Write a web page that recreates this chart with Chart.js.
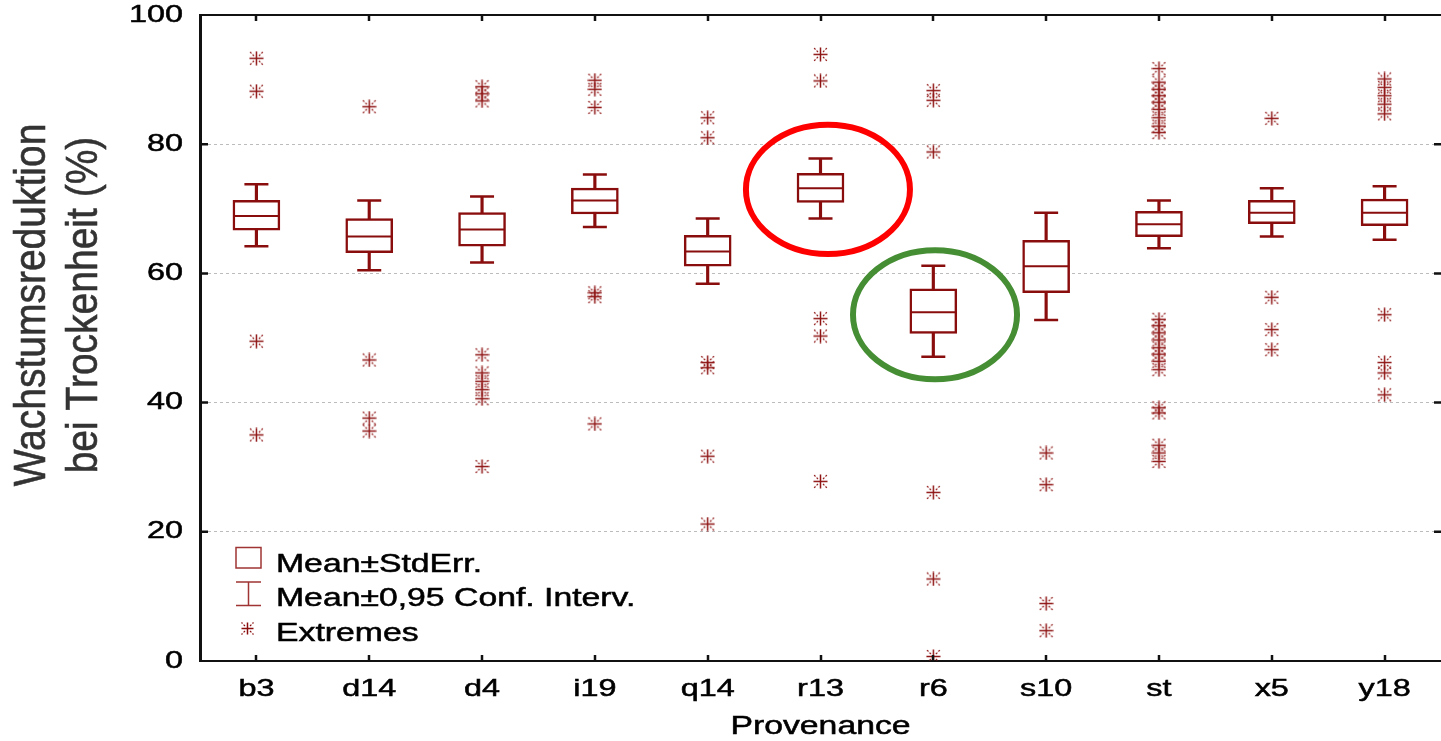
<!DOCTYPE html>
<html>
<head>
<meta charset="utf-8">
<script src="https://cdn.jsdelivr.net/npm/chart.js@4.4.1/dist/chart.umd.min.js"></script>
<style>
  html, body { margin: 0; padding: 0; background: #fff; }
  #wrap { width: 1441px; height: 741px; }
</style>
</head>
<body>
<div id="wrap"><canvas id="boxChart" width="1441" height="741"></canvas></div>
<script>
// data
const categories = ["b3", "d14", "d4", "i19", "q14", "r13", "r6", "s10", "st", "x5", "y18"];
const means  = [68.9, 65.7, 66.8, 71.3, 63.4, 73.2, 54.0, 61.1, 67.6, 69.4, 69.4];
const seLow  = [66.7, 63.2, 64.2, 69.2, 61.1, 71.0, 50.7, 57.0, 65.7, 67.7, 67.4];
const seHigh = [71.3, 68.5, 69.4, 73.2, 65.9, 75.5, 57.6, 65.1, 69.6, 71.3, 71.5];
const ciLow  = [64.2, 60.5, 61.7, 67.2, 58.4, 68.5, 47.1, 52.8, 63.9, 65.7, 65.2];
const ciHigh = [73.8, 71.3, 71.9, 75.3, 68.5, 77.8, 61.2, 69.4, 71.3, 73.2, 73.5];
const extremes = [
  [93.3, 88.2, 49.5, 35.0],
  [85.8, 46.6, 37.6, 35.6],
  [88.9, 87.8, 86.7, 47.4, 44.6, 43.3, 42.0, 40.6, 30.1],
  [89.9, 88.5, 85.7, 57.0, 56.4, 36.7],
  [84.1, 81.0, 46.2, 45.4, 31.7, 21.2],
  [93.9, 89.8, 53.0, 50.3, 27.8],
  [88.3, 86.8, 78.8, 26.1, 12.7, 0.7],
  [32.2, 27.3, 8.9, 4.7],
  [91.7, 89.6, 88.5, 87.5, 86.5, 85.4, 84.1, 82.8, 81.8,
   52.9, 51.9, 50.8, 49.7, 48.5, 47.5, 46.4, 45.1, 39.2, 38.4, 33.4, 32.2, 30.9],
  [84.0, 56.3, 51.3, 48.2],
  [90.1, 88.8, 87.5, 86.2, 84.7, 53.6, 46.2, 44.6, 41.2]
];
const yTicks = [0, 20, 40, 60, 80, 100];
const legendLabels = ["Mean\u00b1StdErr.", "Mean\u00b10,95 Conf. Interv.", "Extremes"];
const yTitle = ["Wachstumsreduktion", "bei Trockenheit (%)"];
const xTitle = "Provenance";

// circled groups (centre in data units)
const ringCats = ["r13", "r6"];
const ringCenters = [73.0, 53.6];
const ringColors = ["#ff0000", "#468e34"];

const DARK_RED = "#8a0d0d";
const STAR_RED = "#8f1515";
const FONT = "'Liberation Sans', Arial, sans-serif";
const TEXT_STRETCH = 1.35;   // the source picture is stretched sideways
const TITLE_STRETCH = 1.13;

const canvas = document.getElementById("boxChart");
const ctx = canvas.getContext("2d");

// stretch every text draw horizontally around its anchor point (and thicken it a bit)
const rawFillText = ctx.fillText;
const rawStrokeText = ctx.strokeText;
ctx.fillText = function (text, x, y, maxWidth) {
  const m = this.getTransform();
  const sx = Math.abs(m.b) > 1e-6 ? TITLE_STRETCH : TEXT_STRETCH;
  const px = m.a * x + m.c * y + m.e;
  const py = m.b * x + m.d * y + m.f;
  this.save();
  this.setTransform(new DOMMatrix().translate(px, py).scale(sx, 1).translate(-px, -py).multiply(m));
  rawFillText.call(this, text, x, y, maxWidth);
  this.setLineDash([]);
  this.lineWidth = 0.5;
  this.strokeStyle = this.fillStyle;
  rawStrokeText.call(this, text, x, y, maxWidth);
  this.restore();
};

// asterisk marker like the one of the source program
function makeAsterisk(size, color) {
  const c = document.createElement("canvas");
  c.width = size; c.height = size;
  const g = c.getContext("2d");
  const h = size / 2;
  g.strokeStyle = color;
  g.lineWidth = 1.5;
  g.beginPath();
  g.moveTo(h, 0.5); g.lineTo(h, size - 0.5);
  g.moveTo(0.5, h); g.lineTo(size - 0.5, h);
  g.stroke();
  g.lineWidth = 1.2;
  g.beginPath();
  [[1, 1], [1, -1], [-1, 1], [-1, -1]].forEach(([dx, dy]) => {
    g.moveTo(h + dx * 2.5, h + dy * 2.5);
    g.lineTo(h + dx * (h - 0.5), h + dy * (h - 0.5));
  });
  g.setLineDash([2, 1.5]);
  g.stroke();
  return c;
}
const asterisk = makeAsterisk(15, STAR_RED);

const extremePoints = [];
extremes.forEach((vals, i) => vals.forEach((v) => extremePoints.push({ x: categories[i], y: v })));
const capPoints = categories.map((c, i) => ({ x: c, y: ciHigh[i] }))
  .concat(categories.map((c, i) => ({ x: c, y: ciLow[i] })));
const meanPoints = categories.map((c, i) => ({ x: c, y: means[i] }));

const decorations = {
  id: "decorations",
  afterDatasetsDraw(chart) {
    const { ctx, scales: { x, y } } = chart;
    const step = x.getPixelForValue(1) - x.getPixelForValue(0);
    ctx.save();
    ringCats.forEach((cat, i) => {
      const cx = x.getPixelForValue(categories.indexOf(cat)) + step * (i === 0 ? 0.066 : 0.015);
      const cy = y.getPixelForValue(ringCenters[i]);
      const ry = y.getPixelForValue(ringCenters[i] - 10) - cy;
      ctx.beginPath();
      ctx.ellipse(cx, cy, step * 0.727, ry, 0, 0, Math.PI * 2);
      ctx.lineWidth = 6;
      ctx.strokeStyle = ringColors[i];
      ctx.stroke();
    });
    ctx.restore();
  },
  afterDraw(chart) {
    const { ctx, chartArea: a, scales: { x, y } } = chart;
    ctx.save();
    // top frame line
    ctx.strokeStyle = "#111";
    ctx.lineWidth = 2;
    ctx.beginPath();
    ctx.moveTo(a.left - 1, a.top);
    ctx.lineTo(a.right, a.top);
    ctx.stroke();
    // inward tick marks
    ctx.lineWidth = 2.5;
    ctx.beginPath();
    categories.forEach((c, i) => {
      const px = Math.round(x.getPixelForValue(i));
      ctx.moveTo(px, a.top); ctx.lineTo(px, a.top + 6);
      ctx.moveTo(px, a.bottom); ctx.lineTo(px, a.bottom - 6);
    });
    yTicks.slice(1, -1).forEach((v) => {
      const py = y.getPixelForValue(v);
      ctx.moveTo(a.left, py); ctx.lineTo(a.left + 8, py);
      ctx.moveTo(a.right, py); ctx.lineTo(a.right - 7, py);
    });
    ctx.stroke();

    // y axis title, two centred lines
    ctx.fillStyle = "#333";
    ctx.font = "39px " + FONT;
    ctx.textAlign = "center";
    ctx.textBaseline = "alphabetic";
    const midY = (a.top + a.bottom) / 2 - 33;
    [45, 97].forEach((bx, i) => {
      ctx.save();
      ctx.translate(bx, midY);
      ctx.rotate(-Math.PI / 2);
      ctx.fillText(yTitle[i], 0, 0);
      ctx.restore();
    });

    // legend inside the plot, lower left
    const lx = a.left + 36;
    const base = [a.bottom - 89, a.bottom - 55, a.bottom - 20];
    ctx.strokeStyle = "#a03434";
    ctx.lineWidth = 1.5;
    ctx.strokeRect(lx, base[0] - 24.5, 25, 20.5);
    ctx.beginPath();
    ctx.moveTo(lx, base[1] - 24); ctx.lineTo(lx + 25, base[1] - 24);
    ctx.moveTo(lx + 12.5, base[1] - 24); ctx.lineTo(lx + 12.5, base[1] - 0.5);
    ctx.moveTo(lx, base[1] - 0.5); ctx.lineTo(lx + 25, base[1] - 0.5);
    ctx.stroke();
    ctx.drawImage(makeAsterisk(13, "#8a0d0d"), lx + 5, base[2] - 19);
    ctx.fillStyle = "#000";
    ctx.font = "25px " + FONT;
    ctx.textAlign = "left";
    legendLabels.forEach((t, i) => ctx.fillText(t, lx + 40, base[i]));
    ctx.restore();
  }
};

new Chart(ctx, {
  data: {
    labels: categories,
    datasets: [
      {
        type: "line",
        label: "Extremes",
        data: extremePoints,
        showLine: false,
        pointStyle: asterisk,
        pointRadius: 7,
        order: 0
      },
      {
        type: "line",
        label: "Mean",
        data: meanPoints,
        showLine: false,
        pointStyle: "line",
        pointRadius: 23,
        pointBorderWidth: 2,
        borderColor: DARK_RED,
        pointBorderColor: DARK_RED,
        order: 1
      },
      {
        type: "line",
        label: "CI caps",
        data: capPoints,
        showLine: false,
        pointStyle: "line",
        pointRadius: 12,
        pointBorderWidth: 2.5,
        borderColor: DARK_RED,
        pointBorderColor: DARK_RED,
        order: 1
      },
      {
        type: "bar",
        label: "Mean\u00b1StdErr.",
        data: seLow.map((v, i) => [v, seHigh[i]]),
        backgroundColor: "#ffffff",
        borderColor: DARK_RED,
        borderWidth: 2.5,
        borderSkipped: false,
        barThickness: 47,
        grouped: false,
        order: 2
      },
      {
        type: "bar",
        label: "Mean\u00b10,95 Conf. Interv.",
        data: ciLow.map((v, i) => [v, ciHigh[i]]),
        backgroundColor: DARK_RED,
        borderWidth: 0,
        barThickness: 2.5,
        grouped: false,
        order: 3
      }
    ]
  },
  options: {
    responsive: false,
    animation: false,
    devicePixelRatio: 1,
    events: [],
    layout: { autoPadding: false, padding: { top: 15, right: 0, bottom: 0, left: 0 } },
    plugins: { legend: { display: false }, tooltip: { enabled: false } },
    scales: {
      x: {
        type: "category",
        offset: true,
        grid: { display: false, drawTicks: false },
        border: { display: true, color: "#111", width: 2 },
        ticks: { color: "#000", font: { family: FONT, size: 24 }, padding: 14, maxRotation: 0 },
        title: {
          display: true,
          text: xTitle,
          color: "#000",
          font: { family: FONT, size: 25, lineHeight: 1.0 },
          padding: { top: 0, bottom: 1 }
        },
        afterFit(scale) {
          scale.height = 80;
          scale.paddingLeft = 0;
          scale.paddingRight = 0;
        }
      },
      y: {
        min: 0,
        max: 100,
        afterBuildTicks(scale) { scale.ticks = yTicks.map((v) => ({ value: v })); },
        grid: {
          drawTicks: false,
          color: (c) => (c.tick && (c.tick.value === 0 || c.tick.value === 100) ? "rgba(0,0,0,0)" : "#bcbcbc"),
          lineWidth: 1
        },
        border: { display: true, color: "#111", width: 3, dash: [3, 3] },
        ticks: { color: "#000", font: { family: FONT, size: 24 }, padding: 17 },
        afterFit(scale) {
          scale.width = 200;
          scale.paddingTop = 0;
          scale.paddingBottom = 0;
        }
      }
    }
  },
  plugins: [decorations]
});
</script>
</body>
</html>
